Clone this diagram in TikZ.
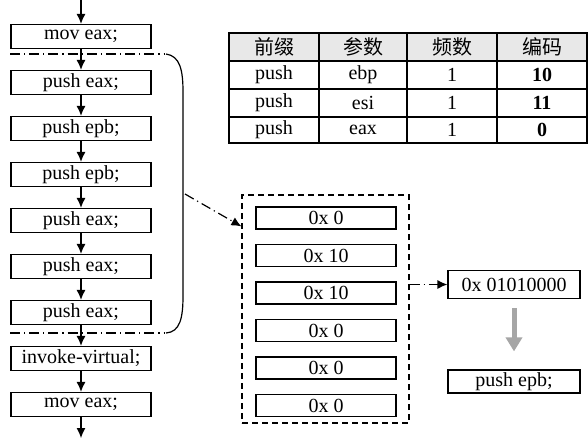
\documentclass[tikz,border=0pt]{standalone}
\usepackage{fontspec}
\setmainfont{Liberation Serif}
\newfontfamily\cjkfont{Noto Sans CJK SC}
\usetikzlibrary{arrows.meta}

\begin{document}
\begin{tikzpicture}
% one pixel of the drawing
\def\pxsz{0.5pt}
\providecommand{\codeLineWidth}{0.6pt}
\providecommand{\codeHeadColor}{black!9}
\providecommand{\codeBigArrowColor}{black!35}
\begin{scope}[x=\pxsz, y=-\pxsz,
  every node/.style={font=\fontsize{10}{12}\selectfont, inner sep=0pt},
  instbox/.style={draw, line width=\codeLineWidth, minimum width=70pt, minimum height=12pt},
  slotbox/.style={draw, line width=\codeLineWidth, minimum width=70pt, minimum height=11pt},
  flow/.style={line width=\codeLineWidth, -{Latex[length=5pt,width=4.5pt]}},
  dashdot/.style={line width=\codeLineWidth, dash pattern=on 5pt off 2pt on 0.6pt off 2pt}]
  \useasboundingbox (0,0) rectangle (588,440);
  % Instruction column
  \coordinate (top) at (81,0);
  \node[instbox] (i0) at (81,36.5) {mov eax;};
  \node[instbox] (i1) at (81,82.5) {push eax;};
  \node[instbox] (i2) at (81,128.5) {push epb;};
  \node[instbox] (i3) at (81,174.5) {push epb;};
  \node[instbox] (i4) at (81,220.5) {push eax;};
  \node[instbox] (i5) at (81,266.5) {push eax;};
  \node[instbox] (i6) at (81,312.5) {push eax;};
  \node[instbox] (i7) at (81,358.5) {invoke-virtual;};
  \node[instbox] (i8) at (81,404.5) {mov eax;};
  \coordinate (bot) at (81,438);
  \draw[flow] (top) -- (i0);
  \draw[flow] (i0) -- (i1);
  \draw[flow] (i1) -- (i2);
  \draw[flow] (i2) -- (i3);
  \draw[flow] (i3) -- (i4);
  \draw[flow] (i4) -- (i5);
  \draw[flow] (i5) -- (i6);
  \draw[flow] (i6) -- (i7);
  \draw[flow] (i7) -- (i8);
  \draw[flow] (i8) -- (bot);
  % Cut lines and bracket
  \draw[dashdot] (10,54) -- (164,54);
  \draw[dashdot] (10,333) -- (164,333);
  \draw[line width=\codeLineWidth] (166,54) .. controls (180,56) and (183,70) .. (183,92)
    -- (183,296) .. controls (183,318) and (180,332) .. (166,333);
  \coordinate (brk) at (185,194);
  % Slot block
  \node[draw, line width=\codeLineWidth, dash pattern=on 3pt off 2pt,
    minimum width=83.5pt, minimum height=114pt] (mem) at (325.5,309) {};
  \node[slotbox] (s0) at (326,218) {0x 0};
  \node[slotbox] (s1) at (326,255.5) {0x 10};
  \node[slotbox] (s2) at (326,293) {0x 10};
  \node[slotbox] (s3) at (326,330.5) {0x 0};
  \node[slotbox] (s4) at (326,368) {0x 0};
  \node[slotbox] (s5) at (326,405.5) {0x 0};
  \draw[dashdot, -{Latex[length=5pt,width=4.5pt]}] (brk) -- ([yshift=-16pt]mem.north west);
  % Encoded result
  \node[draw, line width=\codeLineWidth, minimum width=66pt, minimum height=14pt] (hex) at (514,284.5) {0x 01010000};
  \node[draw, line width=\codeLineWidth, minimum width=66pt, minimum height=11.5pt] (dec) at (514,381.5) {push epb;};
  \draw[dashdot, -{Latex[length=5pt,width=4.5pt]}] (mem.east |- hex.west) -- (hex.west);
  \draw[draw=\codeBigArrowColor, line width=2.5pt, shorten <=4.5pt, shorten >=9pt,
    -{Triangle[length=7pt,width=8pt]}] (hex) -- (dec);
  % Table
  \fill[\codeHeadColor] (229,33) rectangle (587,61);
  \begin{scope}[line width=\codeLineWidth]
    \draw (229,33) rectangle (587,143);
    \draw (229,61) -- (587,61);
    \draw (229,89) -- (587,89);
    \draw (229,117) -- (587,117);
    \draw (319,33) -- (319,143);
    \draw (407,33) -- (407,143);
    \draw (497,33) -- (497,143);
  \end{scope}
  \node[font=\cjkfont\fontsize{10}{12}\selectfont] (h0) at (274,47) {前缀};
  \node[font=\cjkfont\fontsize{10}{12}\selectfont] (h1) at (363,47) {参数};
  \node[font=\cjkfont\fontsize{10}{12}\selectfont] (h2) at (452,47) {频数};
  \node[font=\cjkfont\fontsize{10}{12}\selectfont] (h3) at (542,47) {编码};
  \node (r0a) at (274,75) {push};
  \node (r0b) at (363,75) {ebp};
  \node (r0c) at (452,75) {1};
  \node[font=\fontsize{10}{12}\selectfont\bfseries] (r0d) at (542,75) {10};
  \node (r1a) at (274,103) {push};
  \node (r1b) at (363,103) {esi};
  \node (r1c) at (452,103) {1};
  \node[font=\fontsize{10}{12}\selectfont\bfseries] (r1d) at (542,103) {11};
  \node (r2a) at (274,130) {push};
  \node (r2b) at (363,130) {eax};
  \node (r2c) at (452,130) {1};
  \node[font=\fontsize{10}{12}\selectfont\bfseries] (r2d) at (542,130) {0};
\end{scope}
\end{tikzpicture}
\end{document}
